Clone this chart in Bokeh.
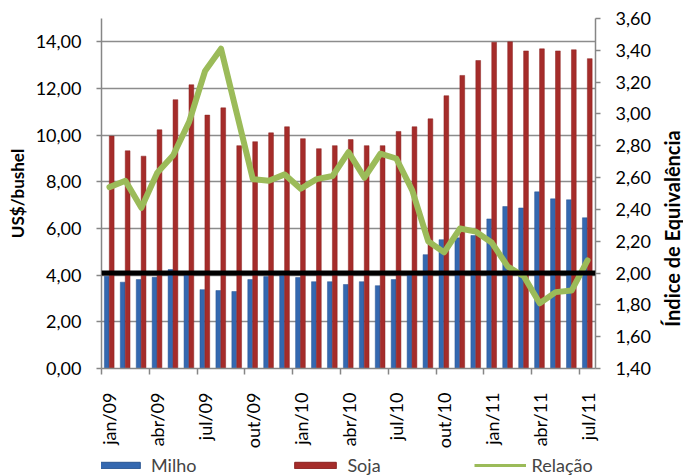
from math import pi
from bokeh.plotting import figure
from bokeh.layouts import column, row
from bokeh.core.properties import value
from bokeh.models import (Range1d, LinearAxis, FixedTicker, CustomJSTickFormatter,
                          Span, Legend, LegendItem, ColumnDataSource)
from bokeh.transform import dodge
from bokeh.embed import file_html
from bokeh.resources import INLINE

months = ["jan/09", "fev/09", "mar/09", "abr/09", "mai/09", "jun/09", "jul/09", "ago/09",
          "set/09", "out/09", "nov/09", "dez/09", "jan/10", "fev/10", "mar/10", "abr/10",
          "mai/10", "jun/10", "jul/10", "ago/10", "set/10", "out/10", "nov/10", "dez/10",
          "jan/11", "fev/11", "mar/11", "abr/11", "mai/11", "jun/11", "jul/11"]
milho = [3.95, 3.70, 3.81, 3.91, 4.24, 4.05, 3.38, 3.34, 3.30, 3.81, 3.94, 3.98,
         3.90, 3.72, 3.72, 3.60, 3.72, 3.55, 3.81, 4.05, 4.88, 5.52, 5.60, 5.70,
         6.41, 6.94, 6.88, 7.57, 7.27, 7.23, 6.46]
soja = [9.96, 9.33, 9.10, 10.23, 11.52, 12.16, 10.86, 11.17, 9.55, 9.72, 10.10, 10.36,
        9.85, 9.42, 9.55, 9.81, 9.55, 9.55, 10.16, 10.36, 10.70, 11.69, 12.56, 13.20,
        13.98, 14.00, 13.61, 13.70, 13.61, 13.66, 13.28]
relacao = [2.54, 2.58, 2.41, 2.63, 2.74, 2.95, 3.27, 3.41, 3.00, 2.59, 2.58, 2.62,
           2.53, 2.59, 2.61, 2.76, 2.60, 2.75, 2.72, 2.52, 2.20, 2.13, 2.28, 2.26,
           2.19, 2.04, 1.98, 1.81, 1.88, 1.89, 2.08]
equivalencia = 2.0
left_ticks = [0, 2, 4, 6, 8, 10, 12, 14]
right_ticks = [1.4, 1.6, 1.8, 2.0, 2.2, 2.4, 2.6, 2.8, 3.0, 3.2, 3.4, 3.6]
label_step = 3
series_names = ["Milho", "Soja", "Relação"]
left_title = "US$/bushel"
right_title = "Índice de Equivalência"

FONT = "Lato"
BLUE, BLUE_EDGE = "#3468b0", "#2a5592"
RED, RED_EDGE = "#a52c2a", "#8a2220"
GREEN = "#9bbb59"
n = len(months)
src = ColumnDataSource(dict(x=[i + 0.5 for i in range(n)], milho=milho, soja=soja,
                            relacao=relacao))

p = figure(width=655, height=452, x_range=Range1d(0, n), y_range=Range1d(0, 15),
           output_backend="svg", toolbar_location=None,
           min_border_left=101, min_border_right=60, min_border_top=18, min_border_bottom=84)
p.extra_y_ranges = {"rel": Range1d(1.4, 3.6)}
p.outline_line_color = None

fmt = CustomJSTickFormatter(code="return tick.toFixed(2).replace('.', ',');")

ya = p.yaxis[0]
ya.ticker = FixedTicker(ticks=left_ticks)
ya.formatter = fmt
ya.axis_label = left_title

xa = p.xaxis[0]
xa.ticker = FixedTicker(ticks=[i + 0.5 for i in range(0, n, label_step)],
                        minor_ticks=[i for i in range(0, n, label_step)])
xa.formatter = CustomJSTickFormatter(args=dict(labels=months),
                                     code="return labels[Math.floor(tick)];")
xa.major_label_orientation = pi / 2
xa.major_tick_out = 0
xa.major_tick_in = 0
xa.minor_tick_out = 6
xa.minor_tick_in = 0
xa.major_label_standoff = 18

ra = LinearAxis(y_range_name="rel", ticker=FixedTicker(ticks=right_ticks), formatter=fmt)
p.add_layout(ra, "right")

for ax in [ya, ra]:
    ax.major_tick_out = 5
    ax.major_tick_in = 0
    ax.major_label_standoff = 15
for ax in [xa, ya, ra]:
    ax.axis_line_color = "#868686"
    ax.axis_line_width = 1.5
    ax.major_tick_line_color = "#868686"
    ax.minor_tick_line_color = "#868686" if ax is xa else None
    ax.major_tick_line_width = 1.5
    ax.minor_tick_line_width = 1.5
    ax.major_label_text_font = FONT
    ax.major_label_text_font_size = "18px"
    ax.major_label_text_color = "black"
ya.axis_label_text_font = FONT
ya.axis_label_text_font_style = "bold"
ya.axis_label_text_color = "black"
ya.axis_label_standoff = 5
ya.axis_label_text_font_size = "17px"

p.xgrid.visible = False
p.ygrid.grid_line_color = "#8c8c8c"
p.ygrid.grid_line_width = 1.5

p.vbar(x=dodge("x", -0.17, range=p.x_range), top="milho", width=0.3, source=src,
       fill_color=BLUE, line_color=BLUE_EDGE, line_width=0.5)
p.vbar(x=dodge("x", 0.14, range=p.x_range), top="soja", width=0.3, source=src,
       fill_color=RED, line_color=RED_EDGE, line_width=0.5)
p.line(x="x", y="relacao", source=src, y_range_name="rel", line_color=GREEN,
       line_width=6, line_join="round", line_cap="round")

p.add_layout(Span(location=equivalencia, dimension="width", y_range_name="rel",
                  line_color="black", line_width=5))

# right-hand axis title strip (reads bottom to top, as in the reference)
sf = figure(width=28, height=452, x_range=Range1d(0, 1), y_range=Range1d(0, 1),
            output_backend="svg", toolbar_location=None,
            min_border_left=0, min_border_right=0, min_border_top=18, min_border_bottom=84,
            x_axis_location=None, y_axis_location=None)
sf.grid.visible = False
sf.outline_line_color = None
sf.text(x=[0.6], y=[0.40], text=[right_title], angle=pi / 2,
        text_align="center", text_baseline="middle", text_font=value(FONT),
        text_font_size="20px", text_font_style="bold", text_color="black")

# legend strip below the chart (hidden renderers only supply the legend swatches)
lf = figure(width=683, height=24, x_range=Range1d(0, 1), y_range=Range1d(0, 1),
            output_backend="svg", toolbar_location=None,
            min_border_left=101, min_border_right=88, min_border_top=0, min_border_bottom=0,
            x_axis_location=None, y_axis_location=None)
lf.grid.visible = False
lf.outline_line_color = None
lb = lf.vbar(x="x", top="milho", width=0.3, source=src, fill_color=BLUE,
             line_color=BLUE_EDGE, visible=False)
lr = lf.vbar(x="x", top="soja", width=0.3, source=src, fill_color=RED,
             line_color=RED_EDGE, visible=False)
ll = lf.line(x="x", y="relacao", source=src, line_color=GREEN, line_width=3, visible=False)
legend = Legend(items=[LegendItem(label=series_names[0], renderers=[lb]),
                       LegendItem(label=series_names[1], renderers=[lr]),
                       LegendItem(label=series_names[2], renderers=[ll])],
                orientation="horizontal", location=(-8, 0),
                glyph_width=52, glyph_height=8, label_standoff=6, spacing=93,
                padding=0, margin=0, border_line_alpha=0, background_fill_alpha=0,
                inactive_fill_alpha=0,
                label_text_font=FONT, label_text_font_size="18px", label_height=20)
lf.add_layout(legend, "center")

layout = column(row(p, sf, spacing=0), lf, spacing=0)
open("out.html", "w").write(file_html(layout, INLINE))
